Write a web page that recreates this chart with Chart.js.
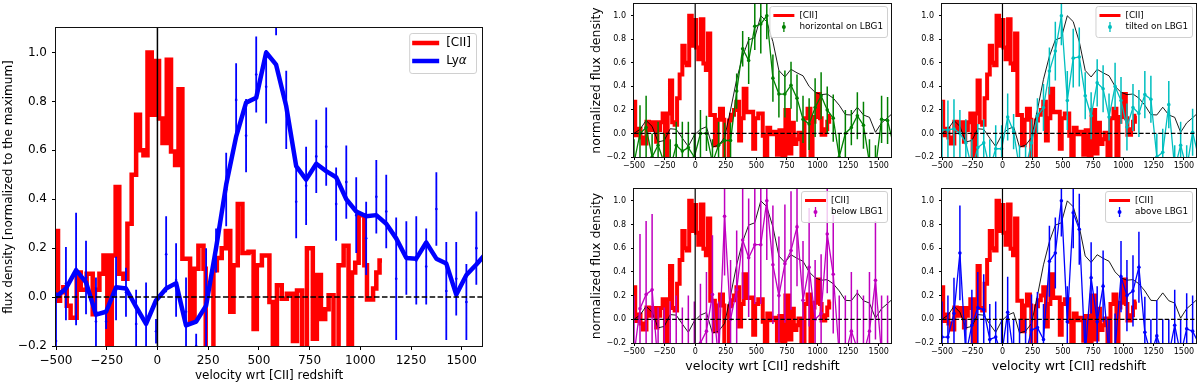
<!DOCTYPE html>
<html>
<head>
<meta charset="utf-8">
<script src="https://cdn.jsdelivr.net/npm/chart.js@4.4.1/dist/chart.umd.min.js"></script>
<style>
  html, body { margin: 0; padding: 0; background: #fff; }
  #fig { position: relative; width: 1200px; height: 383px; overflow: hidden; }
  #fig canvas { position: absolute; }
</style>
</head>
<body>
<div id="fig">
  <canvas id="cMain" width="500" height="383" style="left:0;top:0"></canvas>
  <canvas id="cTL" width="320" height="185" style="left:580px;top:0"></canvas>
  <canvas id="cTR" width="300" height="185" style="left:900px;top:0"></canvas>
  <canvas id="cBL" width="320" height="198" style="left:580px;top:185px"></canvas>
  <canvas id="cBR" width="300" height="198" style="left:900px;top:185px"></canvas>
</div>
<script>
// axis ranges and ticks
const xRange = [-500, 1600];
const yRange = [-0.2, 1.1];
const xTickValues = [-500, -250, 0, 250, 500, 750, 1000, 1250, 1500];
const yTickValues = [-0.2, 0.0, 0.2, 0.4, 0.6, 0.8, 1.0];

// [CII] spectrum: left edge of each step (km/s) and its normalized flux
const ciiEdges = [-500, -490, -480, -464, -447, -428, -398, -378, -349, -319, -308, -286, -266, -247,
  -225, -206, -188, -168, -148, -127, -105, -86, -69, -49, -28, -10, 8, 25, 46, 67, 87, 104, 123,
  161, 183, 202, 227, 238, 276, 293, 317, 337, 359, 375, 396, 419, 449, 474, 490, 515, 552, 569,
  589, 613, 638, 668, 688, 713, 737, 766, 786, 806, 827, 844, 868, 893, 918, 942, 959, 975, 992,
  1020, 1033, 1063, 1079, 1095];
const ciiLevels = [0.27, -0.015, 0.02, 0.04, -0.035, -0.085, 0.10, 0.03, 0.095, -0.07, 0.03, 0.095, 0.17, -0.3,
  0.17, 0.45, 0.095, 0.075, 0.30, 0.50, 0.745, 0.60, 0.58, 1.0, 0.745, 0.965, 0.73, 0.63, 0.97, 0.595, 0.54, 0.85, 0.157,
  -0.10, 0.116, 0.21, 0.116, -0.3, 0.11, 0.16, 0.20, 0.27, -0.06, 0.13, 0.38, 0.18, 0.185, -0.13, 0.13, 0.17, -0.02, -0.3,
  0.048, -0.007, 0.014, -0.18, 0.027, -0.3, 0.20, -0.17, 0.09, -0.09, -0.05, 0.007, -0.3, 0.13, 0.21, -0.3, 0.10, 0.14, 0.335,
  0.13, -0.01, 0.035, 0.10, 0.15];
const ciiEnd = 1107;

// Lya velocity grid (km/s)
const velGrid = [-500, -451, -401, -352, -303, -253, -204, -155, -105, -56, -7, 43, 92, 141, 191, 240, 289,
  339, 388, 437, 487, 536, 585, 635, 684, 733, 783, 832, 881, 931, 980, 1029, 1079, 1128, 1177, 1227,
  1276, 1325, 1375, 1424, 1473, 1523, 1572, 1621];
// smoothed Lya profile
const lyaSmooth = [0.0, 0.035, 0.11, 0.06, -0.072, -0.06, 0.04, 0.035, -0.04, -0.11, -0.014, 0.035, 0.057, -0.116,
  -0.10, -0.035, 0.20, 0.46, 0.656, 0.795, 0.815, 1.0, 0.95, 0.78, 0.535, 0.48, 0.545, 0.515, 0.49, 0.40, 0.35,
  0.33, 0.335, 0.30, 0.24, 0.16, 0.157, 0.223, 0.157, 0.137, 0.01, 0.09, 0.133, 0.18];
// Lya measurements and errors
const lyaFlux = [-0.18, 0.055, 0.115, 0.08, -0.1, -0.1, 0.035, 0.02, -0.11, -0.1, -0.14, 0.175, 0.07, -0.06, -0.2,
  -0.02, 0.19, 0.44, 0.806, 0.66, 0.91, 0.86, 1.22, 0.765, 0.39, 0.455, 0.575, 0.615, 0.38, 0.47, 0.335, 0.24,
  0.41, 0.35, 0.075, 0.16, 0.15, 0.125, 0.36, 0.025, 0.075, -0.02, 0.2, 0.15];
const lyaErr = [0.2, 0.15, 0.23, 0.15, 0.18, 0.03, 0.13, 0.1, 0.14, 0.16, 0.05, 0.155, 0.15, 0.14, 0.05, 0.22, 0.09,
  0.15, 0.15, 0.15, 0.155, 0.15, 0.15, 0.16, 0.15, 0.16, 0.15, 0.16, 0.15, 0.15, 0.155, 0.15, 0.15, 0.15, 0.25, 0.15,
  0.18, 0.155, 0.15, 0.2, 0.15, 0.155, 0.15, 0.15];

// slit positions
const horizFlux = [-0.25, 0.0, 0.05, -0.2, -0.1, -0.25, -0.3, -0.1, -0.15, -0.12, -0.2, 0.0, 0.0, -0.25, -0.1, -0.06,
  -0.06, 0.36, 0.72, 0.62, 0.91, 0.93, 1.0, 0.47, 0.335, 0.335, 0.41, 0.3, 0.12, 0.08, 0.22, 0.32, 0.2, 0.13, -0.2,
  0.0, 0.05, 0.15, 0.07, -0.25, -0.3, 0.12, 0.11, -0.1];
const horizErr = [0.2, 0.24, 0.27, 0.2, 0.2, 0.25, 0.25, 0.2, 0.25, 0.22, 0.2, 0.2, 0.15, 0.2, 0.2, 0.15, 0.15, 0.15,
  0.15, 0.2, 0.2, 0.25, 0.2, 0.2, 0.2, 0.2, 0.2, 0.2, 0.2, 0.22, 0.25, 0.2, 0.2, 0.2, 0.2, 0.2, 0.15, 0.2, 0.2, 0.2,
  0.2, 0.2, 0.2, 0.2];
const tiltFlux = [0.03, 0.03, 0.04, 0.0, -0.08, -0.3, -0.12, -0.08, -0.3, -0.13, -0.13, 0.14, 0.015, -0.3, -0.3, -0.08,
  0.15, 0.22, 0.53, 0.7, 1.0, 0.28, 0.64, 0.65, 0.32, 0.15, 0.43, 0.38, 0.14, 0.4, 0.28, 0.055, 0.22, 0.17, 0.33,
  0.29, -0.2, -0.16, 0.245, -0.3, -0.1, -0.3, 0.01, -0.2];
const tiltErr = [0.25, 0.25, 0.25, 0.2, 0.2, 0.25, 0.2, 0.2, 0.25, 0.2, 0.2, 0.2, 0.15, 0.2, 0.2, 0.2, 0.15, 0.2, 0.2,
  0.25, 0.25, 0.25, 0.25, 0.25, 0.2, 0.2, 0.2, 0.2, 0.2, 0.2, 0.2, 0.2, 0.2, 0.2, 0.2, 0.2, 0.2, 0.2, 0.2, 0.2, 0.2,
  0.2, 0.2, 0.2];
const belowFlux = [-0.3, 0.09, 0.21, 0.25, -0.4, -0.5, -0.35, -0.3, -0.5, -0.3, -0.4, -0.2, -0.1, 0.21, -0.35, 0.87,
  0.0, 0.25, 0.67, 0.52, 0.63, 0.63, 1.0, 0.46, 0.2, 0.47, 0.58, 0.78, 0.16, 0.44, 0.0, 0.05, 0.72, 0.38, -0.3, -0.3,
  -0.1, -0.25, -0.3, -0.1, 0.33, -0.3, -0.3, -0.2];
const belowErr = [0.5, 0.63, 0.62, 0.64, 0.5, 0.6, 0.5, 0.5, 0.6, 0.5, 0.55, 0.5, 0.5, 0.5, 0.5, 0.5, 0.5, 0.5, 0.5,
  0.5, 0.5, 0.5, 0.5, 0.5, 0.5, 0.5, 0.5, 0.5, 0.5, 0.5, 0.5, 0.5, 0.5, 0.5, 0.5, 0.5, 0.5, 0.5, 0.5, 0.5, 0.5, 0.5,
  0.5, 0.5];
const aboveFlux = [-0.15, -0.15, 0.05, 0.56, -0.3, -0.05, 0.1, 0.08, -0.17, -0.15, -0.3, 0.06, -0.3, -0.3, -0.3, -0.09,
  -0.07, -0.17, 0.49, 0.56, 1.0, -0.02, 0.9, 0.76, -0.3, 0.35, -0.02, 0.28, -0.3, -0.25, 0.36, 0.2, 0.24, 0.44,
  -0.11, -0.3, -0.14, -0.3, -0.3, -0.05, -0.3, -0.08, -0.1, -0.2];
const aboveErr = [0.3, 0.35, 0.3, 0.4, 0.3, 0.3, 0.3, 0.3, 0.3, 0.3, 0.3, 0.3, 0.3, 0.3, 0.3, 0.3, 0.3, 0.3, 0.3, 0.3,
  0.3, 0.3, 0.3, 0.3, 0.3, 0.3, 0.3, 0.3, 0.3, 0.3, 0.3, 0.3, 0.3, 0.3, 0.3, 0.3, 0.3, 0.3, 0.3, 0.3, 0.3, 0.3, 0.3, 0.3];

const mainLegendLabels = ['[CII]', 'Ly\u03b1'];
const xTitle = 'velocity wrt [CII] redshift';
const mainYTitle = 'flux density [normalized to the maximum]';
const smallYTitle = 'normalized flux density';

const FONT = 'DejaVu Sans';
const RED = '#ff0000', BLUE = '#0000ff';

function pts(xs, ys) { return xs.map((x, i) => ({ x: x, y: ys[i] })); }
function ciiPoints() {
  const p = pts(ciiEdges, ciiLevels);
  p.push({ x: ciiEnd, y: ciiLevels[ciiLevels.length - 1] });
  return p;
}
function fmtVel(v) { return v < 0 ? '\u2212' + Math.abs(v) : String(v); }
function fmtFlux(v) { const s = Math.abs(v).toFixed(1); return v < -1e-9 ? '\u2212' + s : s; }

// box round the axes
const framePlugin = {
  id: 'frame',
  afterDraw(chart) {
    const a = chart.chartArea, ctx = chart.ctx;
    ctx.save();
    ctx.strokeStyle = '#111';
    ctx.lineWidth = 1;
    ctx.strokeRect(Math.round(a.left) - 0.5, Math.round(a.top) - 0.5,
      Math.round(a.right - a.left) + 1, Math.round(a.bottom - a.top) + 1);
    ctx.restore();
  }
};

// dashed zero level and systemic velocity line
function refLinePlugin(lw) {
  return {
    id: 'refLines',
    afterDatasetsDraw(chart) {
      const a = chart.chartArea, ctx = chart.ctx;
      const x0 = chart.scales.x.getPixelForValue(0);
      const y0 = chart.scales.y.getPixelForValue(0);
      ctx.save();
      ctx.strokeStyle = '#000';
      ctx.lineWidth = lw;
      ctx.beginPath();
      ctx.moveTo(x0, a.top); ctx.lineTo(x0, a.bottom);
      ctx.stroke();
      ctx.setLineDash([3.7 * lw, 1.6 * lw]);
      ctx.beginPath();
      ctx.moveTo(a.left, y0); ctx.lineTo(a.right, y0);
      ctx.stroke();
      ctx.restore();
    }
  };
}

const errorBarPlugin = {
  id: 'errorBars',
  afterDatasetDraw(chart, args) {
    const ds = chart.data.datasets[args.index];
    if (!ds.errors) return;
    const ctx = chart.ctx, a = chart.chartArea;
    const xs = chart.scales.x, ys = chart.scales.y;
    ctx.save();
    ctx.beginPath();
    ctx.rect(a.left, a.top, a.right - a.left, a.bottom - a.top);
    ctx.clip();
    ctx.strokeStyle = ds.borderColor;
    ctx.lineWidth = ds.barWidth || 1.2;
    ctx.beginPath();
    ds.data.forEach((p, i) => {
      const e = ds.errors[i];
      const x = xs.getPixelForValue(p.x);
      ctx.moveTo(x, ys.getPixelForValue(p.y - e));
      ctx.lineTo(x, ys.getPixelForValue(p.y + e));
    });
    ctx.stroke();
    ctx.restore();
  }
};

function legendPlugin(cfg) {
  return {
    id: 'boxLegend',
    afterDraw(chart) {
      const ctx = chart.ctx, a = chart.chartArea, fs = cfg.fontSize;
      const norm = fs + 'px "' + FONT + '"', ital = 'oblique ' + fs + 'px "' + FONT + '"';
      ctx.save();
      const widthOf = (label) => {
        if (label.endsWith('\u03b1')) {
          ctx.font = norm; const w1 = ctx.measureText(label.slice(0, -1)).width;
          ctx.font = ital; return w1 + ctx.measureText('\u03b1').width;
        }
        ctx.font = norm; return ctx.measureText(label).width;
      };
      const textW = Math.max(...cfg.items.map(it => widthOf(it.label)));
      const w = cfg.padL + cfg.handle + cfg.gap + textW + cfg.padR;
      const h = cfg.items.length * cfg.row + cfg.extra;
      const x0 = a.right - cfg.insetR - w, y0 = a.top + cfg.insetT;
      ctx.beginPath();
      if (ctx.roundRect) ctx.roundRect(x0 + 0.5, y0 + 0.5, w, h, 2.5); else ctx.rect(x0 + 0.5, y0 + 0.5, w, h);
      ctx.fillStyle = 'rgba(255,255,255,0.8)';
      ctx.fill();
      ctx.strokeStyle = '#d0d0d0';
      ctx.lineWidth = 1;
      ctx.stroke();
      cfg.items.forEach((it, i) => {
        const cy = y0 + cfg.first + i * cfg.row;
        const hx = x0 + cfg.padL;
        ctx.strokeStyle = it.color; ctx.fillStyle = it.color;
        if (it.kind === 'line') {
          ctx.lineWidth = it.width;
          ctx.beginPath(); ctx.moveTo(hx, cy); ctx.lineTo(hx + cfg.handle, cy); ctx.stroke();
        } else {
          const cx = hx + cfg.handle / 2;
          ctx.lineWidth = 1.3;
          ctx.beginPath(); ctx.moveTo(cx, cy - 5); ctx.lineTo(cx, cy + 5); ctx.stroke();
          ctx.beginPath(); ctx.arc(cx, cy, 2, 0, Math.PI * 2); ctx.fill();
        }
        ctx.fillStyle = '#000';
        ctx.textBaseline = 'middle';
        const tx = hx + cfg.handle + cfg.gap;
        if (it.label.endsWith('\u03b1')) {
          ctx.font = norm; const pre = it.label.slice(0, -1);
          ctx.fillText(pre, tx, cy);
          const pw = ctx.measureText(pre).width;
          ctx.font = ital; ctx.fillText('\u03b1', tx + pw, cy);
        } else {
          ctx.font = norm; ctx.fillText(it.label, tx, cy);
        }
      });
      ctx.restore();
    }
  };
}

function makeChart(id, o) {
  const tickFont = { family: FONT, size: o.tickSize };
  const titleFont = { family: FONT, size: o.titleSize };
  return new Chart(document.getElementById(id), {
    type: 'line',
    data: { datasets: o.datasets },
    options: {
      responsive: false,
      animation: false,
      events: [],
      layout: { padding: o.padding },
      plugins: { legend: { display: false }, tooltip: { enabled: false } },
      scales: {
        x: {
          type: 'linear', min: xRange[0], max: xRange[1],
          afterBuildTicks: s => { s.ticks = xTickValues.map(v => ({ value: v })); },
          afterFit: s => { s.height = o.xHeight; s.paddingLeft = 0; s.paddingRight = 0; },
          ticks: { font: tickFont, color: '#000', padding: o.xTickPad, maxRotation: 0, minRotation: 0,
            autoSkip: false, callback: v => fmtVel(v) },
          grid: { drawOnChartArea: false, drawTicks: true, tickLength: o.tickLen, color: '#000' },
          border: { display: false },
          title: { display: !!o.xTitle, text: o.xTitle || '', font: titleFont, color: '#000',
            padding: { top: 0, bottom: o.xTitlePad || 0 } }
        },
        y: {
          type: 'linear', min: yRange[0], max: yRange[1],
          afterBuildTicks: s => { s.ticks = yTickValues.map(v => ({ value: v })); },
          afterFit: s => { s.width = o.yWidth; s.paddingTop = 0; s.paddingBottom = 0; },
          ticks: { font: tickFont, color: '#000', padding: o.yTickPad, autoSkip: false,
            callback: v => fmtFlux(v) },
          grid: { drawOnChartArea: false, drawTicks: true, tickLength: o.tickLen, color: '#000' },
          border: { display: false },
          title: { display: !!o.yTitle, text: o.yTitle || '', font: titleFont, color: '#000',
            padding: { top: o.yTitlePad || 0, bottom: 0 } }
        }
      }
    },
    plugins: [errorBarPlugin, refLinePlugin(o.refWidth), framePlugin, legendPlugin(o.legend)]
  });
}

function ciiDataset(width) {
  return { data: ciiPoints(), borderColor: RED, borderWidth: width, stepped: true, pointRadius: 0,
    borderJoinStyle: 'miter', fill: false, clip: 0 };
}

// big panel
makeChart('cMain', {
  padding: { left: 0, top: 28, right: 18, bottom: 0 },
  yWidth: 56, xHeight: 37, tickSize: 12, titleSize: 12, tickLen: 4, xTickPad: 4, yTickPad: 5,
  xTitle: xTitle, yTitle: mainYTitle, yTitlePad: 2, xTitlePad: 0, refWidth: 1.5,
  datasets: [
    { data: pts(velGrid, lyaFlux), errors: lyaErr, barWidth: 1.8, borderColor: BLUE, backgroundColor: BLUE,
      showLine: false, pointRadius: 1.3, pointBorderWidth: 0, clip: 0 },
    { data: pts(velGrid, lyaSmooth), borderColor: BLUE, borderWidth: 4.5, pointRadius: 0, tension: 0,
      borderJoinStyle: 'round', fill: false, clip: 0 },
    ciiDataset(4.5)
  ],
  legend: { fontSize: 12, padL: 3, padR: 5, handle: 27, gap: 7, row: 18, first: 10, extra: 4, insetR: 6, insetT: 5,
    items: [
      { label: mainLegendLabels[0], color: RED, kind: 'line', width: 4.5 },
      { label: mainLegendLabels[1], color: BLUE, kind: 'line', width: 4.5 }
    ] }
});

// four slit panels
const panels = [
  { id: 'cTL', flux: horizFlux, err: horizErr, color: '#008000', label: 'horizontal on LBG1', left: true, bottom: false },
  { id: 'cTR', flux: tiltFlux, err: tiltErr, color: '#00bfbf', label: 'tilted on LBG1', left: false, bottom: false },
  { id: 'cBL', flux: belowFlux, err: belowErr, color: '#bf00bf', label: 'below LBG1', left: true, bottom: true },
  { id: 'cBR', flux: aboveFlux, err: aboveErr, color: '#0000ff', label: 'above LBG1', left: false, bottom: true }
];

panels.forEach(p => {
  makeChart(p.id, {
    padding: { left: 0, top: p.bottom ? 3 : 2, right: p.left ? 9 : 3, bottom: 0 },
    yWidth: p.left ? 54 : 42, xHeight: p.bottom ? 40 : 28,
    tickSize: 8, titleSize: 12.5, tickLen: 3, xTickPad: 1, yTickPad: 5,
    xTitle: p.bottom ? xTitle : null, xTitlePad: 9,
    yTitle: p.left ? smallYTitle : null, yTitlePad: 9, refWidth: 1.2,
    datasets: [
      { data: pts(velGrid, p.flux), errors: p.err, barWidth: 1.5, borderColor: p.color, backgroundColor: p.color,
        borderWidth: 1.3, pointRadius: 1.8, pointBorderWidth: 0, tension: 0, fill: false, clip: 0 },
      { data: pts(velGrid, lyaSmooth), borderColor: '#000', borderWidth: 0.9, pointRadius: 0, tension: 0,
        fill: false, clip: 0 },
      ciiDataset(4)
    ],
    legend: { fontSize: 8.8, padL: 4, padR: 4, handle: 21, gap: 5, row: 11.5, first: 9.5, extra: 8, insetR: 4, insetT: 2,
      items: [
        { label: mainLegendLabels[0], color: RED, kind: 'line', width: 3 },
        { label: p.label, color: p.color, kind: 'err' }
      ] }
  });
});
</script>
</body>
</html>
